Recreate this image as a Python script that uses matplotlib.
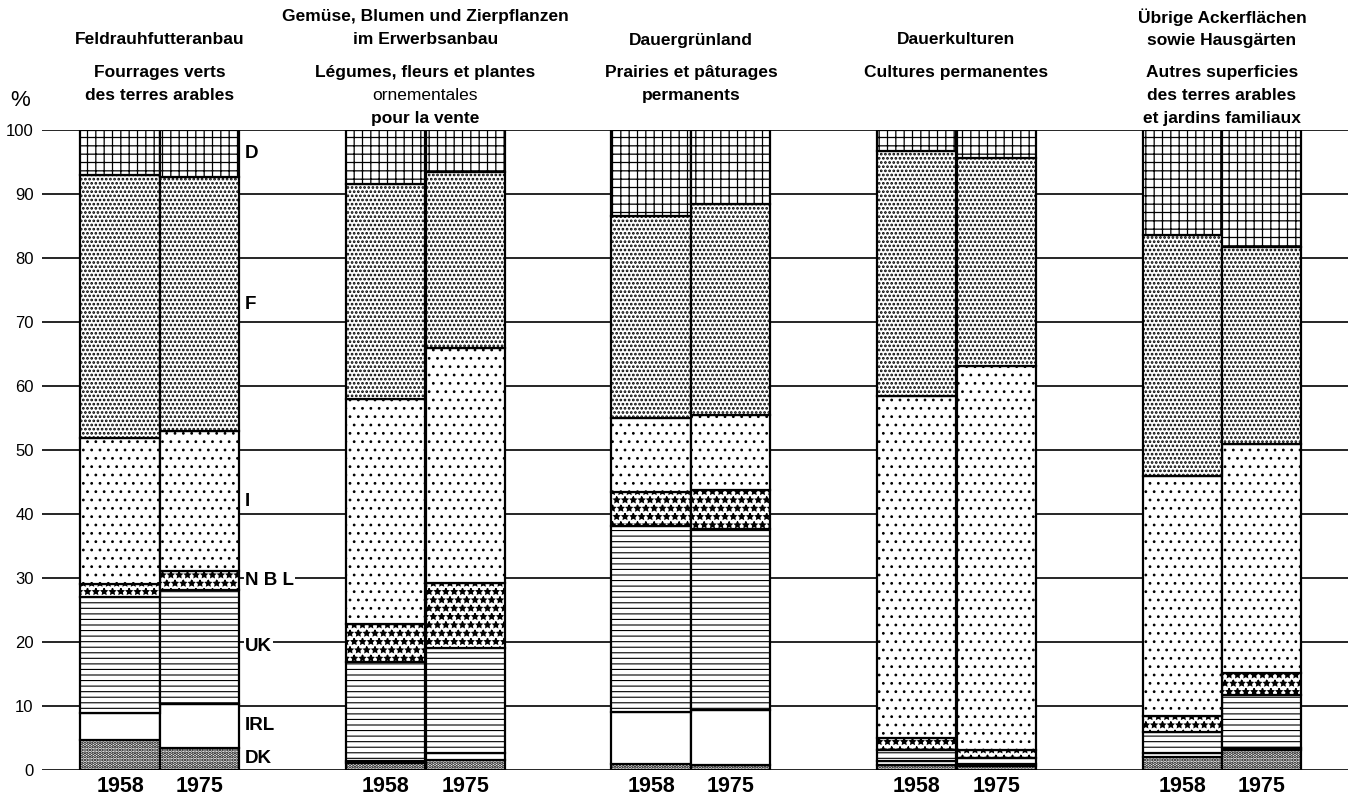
import numpy as np
import matplotlib
matplotlib.use("Agg")
import matplotlib.pyplot as plt
from matplotlib.transforms import blended_transform_factory

plt.rcParams['font.family'] = ['Liberation Sans', 'DejaVu Sans']
plt.rcParams['hatch.color'] = 'black'

# Data: share of each country in the EEC total, per land-use group, 1958 and 1975
years = ["1958", "1975"]
countries = ["DK", "IRL", "UK", "NBL", "I", "F", "D"]
country_labels = ["DK", "IRL", "UK", "N B L", "I", "F", "D"]

# values per bar: group1 1958, group1 1975, group2 1958, ... group5 1975
dk = [4.7, 3.5, 1.1, 1.6, 1.0, 0.8, 0.8, 0.6, 2.1, 3.2]
irl = [4.2, 6.8, 0.3, 1.0, 8.0, 8.5, 0.6, 0.3, 0.5, 0.3]
uk = [18.1, 17.9, 15.4, 16.4, 29.2, 28.4, 1.7, 1.0, 3.4, 8.2]
nbl = [2.0, 2.9, 6.0, 10.2, 5.3, 6.1, 1.9, 1.3, 2.5, 3.4]
it = [22.9, 21.8, 35.1, 36.8, 11.5, 11.7, 53.5, 60.0, 37.5, 35.9]
fr = [41.1, 39.8, 33.7, 27.4, 31.5, 32.9, 38.2, 32.4, 37.6, 30.7]
de = [7.0, 7.3, 8.4, 6.6, 13.5, 11.6, 3.3, 4.4, 16.4, 18.3]

titles_de = [
    ["Feldrauhfutteranbau"],
    ["Gemüse, Blumen und Zierpflanzen", "im Erwerbsanbau"],
    ["Dauergrünland"],
    ["Dauerkulturen"],
    ["Übrige Ackerflächen", "sowie Hausgärten"],
]
titles_fr = [
    ["Fourrages verts", "des terres arables"],
    ["Légumes, fleurs et plantes", "ornementales", "pour la vente"],
    ["Prairies et pâturages", "permanents"],
    ["Cultures permanentes"],
    ["Autres superficies", "des terres arables", "et jardins familiaux"],
]

series = [dk, irl, uk, nbl, it, fr, de]
hatches = [".....", "", "---", "**", "..", "....", "++"]
hatch_lw = [1.7, 1.0, 0.8, 1.0, 0.8, 1.3, 0.9]

fig = plt.figure(figsize=(13.51, 8.01), dpi=100)
ax = fig.add_axes([42 / 1351, 31 / 801, 1306 / 1351, 640 / 801])

n_groups = len(titles_de)
offsets = [-0.15, 0.15]
xpos = np.array([g + o for g in range(n_groups) for o in offsets])
width = 0.298

bottom = np.zeros(len(xpos))
for vals, h, hl in zip(series, hatches, hatch_lw):
    with plt.rc_context({'hatch.linewidth': hl}):
        bars = ax.bar(xpos, vals, width, bottom=bottom, facecolor='white',
                      edgecolor='black', linewidth=1.6, hatch=h)
    for b in bars:
        if hasattr(b, 'set_hatch_linewidth'):
            b.set_hatch_linewidth(hl)
    bottom += np.array(vals)

ax.set_xlim(-0.444, 4.475)
ax.set_ylim(0, 100)
ax.set_yticks(range(0, 101, 10))
ax.set_xticks([])
ax.tick_params(axis='y', length=0, pad=6, labelsize=12)
ax.yaxis.grid(True, color='black', linewidth=1.2)
ax.set_axisbelow(True)
for s in ax.spines.values():
    s.set_visible(False)

tr = blended_transform_factory(ax.transData, ax.transAxes)

def py(p):
    # figure pixel row -> axes fraction
    return (770 - p) / 640

# year labels
for x, yr in zip(xpos, years * n_groups):
    ax.text(x, py(786), yr, transform=tr, ha='center', va='center',
            fontsize=15.5, fontweight='bold')

# group titles
for g in range(n_groups):
    lines = titles_de[g]
    for k, line in enumerate(lines):
        p = 40 - 23 * (len(lines) - 1 - k)
        ax.text(g, py(p), line, transform=tr, ha='center', va='center',
                fontsize=12.5, fontweight='bold', clip_on=False)
    for k, line in enumerate(titles_fr[g]):
        wt = 'normal' if line == "ornementales" else 'bold'
        ax.text(g, py(72 + 23.5 * k), line, transform=tr, ha='center',
                va='center', fontsize=12.5, fontweight=wt, clip_on=False)

# country labels next to the first group
cum = np.cumsum([s[1] for s in series])
mids = cum - np.array([s[1] for s in series]) / 2
for lab, m in zip(country_labels, mids):
    ax.text(0.32, m, lab, ha='left', va='center', fontsize=13.5,
            fontweight='bold',
            bbox=dict(facecolor='white', edgecolor='none', pad=1))

fig.text(20 / 1351, 1 - 100 / 801, "%", ha='center', va='center', fontsize=16)

fig.savefig("out.png", dpi=100)
